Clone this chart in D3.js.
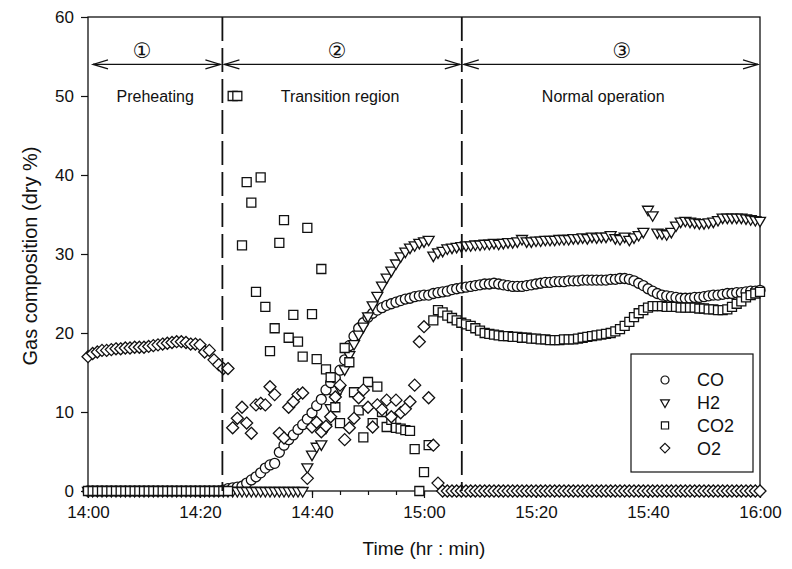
<!DOCTYPE html>
<html>
<head>
<meta charset="utf-8">
<script src="https://cdnjs.cloudflare.com/ajax/libs/d3/7.8.5/d3.min.js"></script>
<style>
    body { margin: 0; background: #fff; }
    text { font-family: "Liberation Sans", Arial, sans-serif; fill: #111; }
</style>
</head>
<body>
<script>
// gas analyser log, one reading every 50 s from 14:00 to 16:00
var startTime = "14:00:00";
var sampleSeconds = 50;

var coValues = [
    0, 0, 0, 0, 0, 0, 0, 0, 0, 0,
    0, 0, 0, 0, 0, 0, 0, 0, 0, 0,
    0, 0, 0, 0, 0, 0, 0, 0, 0, 0.1,
    0.3, 0.4, 0.5, 0.6, 1.0, 1.4, 1.8, 2.3, 2.9, 3.3,
    3.5, 4.9, 5.8, 6.5, 7.1, 7.8, 8.4, 9.1, 9.9, 10.8,
    11.6, 12.8, 13.7, 14.3, 15.3, 16.6, 18.4, 19.6, 20.6, 21.3,
    22.0, 22.5, 22.9, 23.2, 23.5, 23.7, 23.9, 24.1, 24.3, 24.4,
    24.6, 24.7, 24.8, 24.8, 25.0, 25.1, 25.2, 25.3, 25.5, 25.6,
    25.7, 25.8, 25.9, 26.0, 26.1, 26.2, 26.2, 26.3, 26.2, 26.1,
    26.0, 25.9, 25.9, 25.9, 26.0, 26.1, 26.2, 26.3, 26.4, 26.4,
    26.5, 26.5, 26.5, 26.6, 26.6, 26.6, 26.7, 26.7, 26.7, 26.7,
    26.7, 26.7, 26.8, 26.8, 26.9, 26.9, 26.8, 26.6, 26.3, 26.0,
    25.6, 25.3, 25.0, 24.8, 24.7, 24.6, 24.5, 24.4, 24.4, 24.4,
    24.5, 24.5, 24.6, 24.7, 24.8, 24.8, 24.9, 25.0, 25.0, 25.1,
    25.1, 25.2, 25.3, 25.3, 25.4
];
var h2Values = [
    0, 0, 0, 0, 0, 0, 0, 0, 0, 0,
    0, 0, 0, 0, 0, 0, 0, 0, 0, 0,
    0, 0, 0, 0, 0, 0, 0, 0, 0, 0,
    0, 0, 0, 0, 0, 0, 0, 0, 0, 0,
    0, 0, 0, 0, 0, 0, 0, 3.0, 4.6, 5.6,
    5.9, 8.0, 10.5, 11.8, 12.9, 15.4, 17.2, 18.6, 19.8, 20.8,
    22.1, 23.5, 24.7, 26.0, 27.0, 27.9, 28.8, 29.7, 30.3, 30.8,
    31.1, 31.4, 31.6, 31.8, 29.8, 30.2, 30.4, 30.7, 30.8, 30.9,
    31.0, 31.1, 31.1, 31.2, 31.2, 31.3, 31.3, 31.4, 31.3, 31.4,
    31.5, 31.5, 31.6, 31.9, 31.6, 31.6, 31.7, 31.7, 31.8, 31.8,
    31.8, 31.9, 31.9, 31.9, 32.0, 32.0, 32.1, 32.0, 32.2, 32.1,
    32.2, 32.2, 32.4, 32.0, 31.9, 32.2, 31.8, 32.1, 32.4, 32.8,
    35.6, 34.9, 32.7, 32.6, 32.5, 32.8, 33.6, 34.1, 34.2, 34.1,
    34.0, 33.9, 33.9, 34.0, 34.1, 34.3, 34.6, 34.6, 34.6, 34.6,
    34.6, 34.5, 34.4, 34.3, 34.2
];
var co2Values = [
    0, 0, 0, 0, 0, 0, 0, 0, 0, 0,
    0, 0, 0, 0, 0, 0, 0, 0, 0, 0,
    0, 0, 0, 0, 0, 0, 0, 0, 0, 0,
    0, 50, 50, 31.1, 39.1, 36.5, 25.2, 39.7, 23.3, 17.7,
    20.6, 31.4, 34.3, 19.4, 22.3, 18.9, 17.0, 33.3, 22.4, 16.7,
    28.1, 15.4, 14.4, 10.6, 8.6, 18.1, 16.3, 12.5, 10.2, 6.8,
    13.8, 8.6, 13.2, 10.0, 8.1, 9.0, 8.0, 7.9, 7.7, 7.6,
    5.3, 0.0, 2.4, 5.8, 21.6, 22.9, 22.6, 22.2, 21.9, 21.6,
    21.3, 21.1, 20.9, 20.6, 20.3, 20.0, 19.9, 19.8, 19.7, 19.6,
    19.6, 19.5, 19.5, 19.4, 19.4, 19.3, 19.3, 19.2, 19.2, 19.1,
    19.1, 19.1, 19.2, 19.2, 19.2, 19.3, 19.4, 19.5, 19.6, 19.7,
    19.8, 19.9, 20.0, 20.2, 20.5, 20.9, 21.4, 22.0, 22.5, 22.9,
    23.2, 23.4, 23.4, 23.4, 23.3, 23.3, 23.3, 23.2, 23.2, 23.2,
    23.2, 23.1, 23.1, 23.0, 23.0, 22.9, 22.9, 23.0, 23.3, 23.7,
    24.0, 24.5, 24.8, 25.0, 25.2
];
var o2Values = [
    17.0, 17.4, 17.6, 17.8, 17.8, 17.9, 18.0, 18.0, 18.1, 18.1,
    18.2, 18.2, 18.2, 18.3, 18.4, 18.5, 18.6, 18.7, 18.8, 18.9,
    18.9, 18.8, 18.6, 18.6, 18.5, 17.6, 17.8, 16.6, 16.0, 15.5,
    15.5, 8.0, 9.2, 10.6, 8.6, 7.3, 10.9, 11.1, 10.9, 13.2,
    12.2, 7.3, 6.7, 10.6, 11.3, 12.2, 12.4, 1.6, 8.1, 8.7,
    7.5, 8.2, 9.4, 11.9, 13.4, 6.5, 8.0, 9.2, 11.8, 12.8,
    10.6, 8.1, 10.9, 10.3, 11.5, 9.4, 11.5, 9.9, 10.4, 11.3,
    13.4, 18.9, 20.8, 11.8, 5.8, 1.0, 0, 0, 0, 0,
    0, 0, 0, 0, 0, 0, 0, 0, 0, 0,
    0, 0, 0, 0, 0, 0, 0, 0, 0, 0,
    0, 0, 0, 0, 0, 0, 0, 0, 0, 0,
    0, 0, 0, 0, 0, 0, 0, 0, 0, 0,
    0, 0, 0, 0, 0, 0, 0, 0, 0, 0,
    0, 0, 0, 0, 0, 0, 0, 0, 0, 0,
    0, 0, 0, 0, 0
];

var seriesNames = ["CO", "H2", "CO2", "O2"];
var seriesSymbols = ["circle", "triangle", "square", "diamond"];

var xTickLabels = ["14:00", "14:20", "14:40", "15:00", "15:20", "15:40", "16:00"];
var yTickValues = [0, 10, 20, 30, 40, 50, 60];

// operating phases
var phaseBounds = ["14:00:00", "14:24:00", "15:06:45", "16:00:00"];
var phaseNumbers = ["\u2460", "\u2461", "\u2462"];
var phaseNames = ["Preheating", "Transition region", "Normal operation"];
var phaseNumberTimes = ["14:09:40", "14:44:30", "15:35:20"];
var phaseNameTimes = ["14:12:00", "14:45:00", "15:32:00"];

var W = 792, H = 569;
var margin = {top: 17, right: 32, bottom: 78, left: 88};
var width = W - margin.left - margin.right,
    height = H - margin.top - margin.bottom;

var parseTime = d3.timeParse("%H:%M:%S");
var parseTick = d3.timeParse("%H:%M");
var t0 = parseTime(startTime);

function sampleTime(i) {
    return d3.timeSecond.offset(t0, i * sampleSeconds);
}

var valueLists = [coValues, h2Values, co2Values, o2Values];
var series = seriesNames.map(function (name, k) {
    return {
        name: name,
        symbol: seriesSymbols[k],
        points: valueLists[k].map(function (v, i) {
            return {time: sampleTime(i), value: v};
        })
    };
});

var svg = d3.select("body").append("svg")
    .attr("width", W)
    .attr("height", H);

var chart = svg.append("g")
    .attr("transform", "translate(" + margin.left + "," + margin.top + ")");

var x = d3.scaleTime()
    .domain([parseTick(xTickLabels[0]), parseTick(xTickLabels[xTickLabels.length - 1])])
    .range([0, width]);
var y = d3.scaleLinear()
    .domain([0, 60])
    .range([height, 0]);

function markerPath(type, s) {
    if (type == "circle") return d3.symbol(d3.symbolCircle, Math.PI * 25 * s * s)();
    if (type == "square") return "M" + (-4.5 * s) + "," + (-4.5 * s) + "h" + 9 * s + "v" + 9 * s + "h" + (-9 * s) + "z";
    if (type == "diamond") return "M0," + (-6 * s) + "L" + 6 * s + ",0L0," + 6 * s + "L" + (-6 * s) + ",0Z";
    // downward triangle
    return "M" + (-5.5 * s) + "," + (-3.5 * s) + "L" + 5.5 * s + "," + (-3.5 * s) + "L0," + 6 * s + "Z";
}

// axes
var xMinor = d3.axisBottom(x)
    .ticks(d3.timeMinute.every(5))
    .tickSize(4)
    .tickFormat("");
chart.append("g")
    .attr("class", "x minor")
    .attr("transform", "translate(0," + height + ")")
    .call(xMinor);

var xAxis = d3.axisBottom(x)
    .tickValues(xTickLabels.map(parseTick))
    .tickFormat(d3.timeFormat("%H:%M"))
    .tickSize(7)
    .tickPadding(8);
chart.append("g")
    .attr("class", "x axis")
    .attr("transform", "translate(0," + height + ")")
    .call(xAxis);

var yAxis = d3.axisLeft(y)
    .tickValues(yTickValues)
    .tickSize(7)
    .tickPadding(7);
chart.append("g")
    .attr("class", "y axis")
    .call(yAxis);

chart.selectAll(".axis text").style("font-size", "17px");
chart.selectAll(".axis path, .minor path").remove();
chart.selectAll(".tick line").attr("stroke", "#111").attr("stroke-width", 1.2);

// frame
chart.append("rect")
    .attr("width", width)
    .attr("height", height)
    .attr("fill", "none")
    .attr("stroke", "#111")
    .attr("stroke-width", 1.3);

// data
series.forEach(function (s) {
    chart.append("g")
        .attr("class", "series " + s.name)
        .selectAll("path")
        .data(s.points)
        .enter()
        .append("path")
        .attr("transform", function (d) {
            return "translate(" + x(d.time) + "," + y(d.value) + ")";
        })
        .attr("d", markerPath(s.symbol, 1))
        .attr("fill", "#fff")
        .attr("stroke", "#111")
        .attr("stroke-width", 1.3);
});

// phase dividers
chart.selectAll(".divider")
    .data(phaseBounds.slice(1, 3))
    .enter()
    .append("line")
    .attr("class", "divider")
    .attr("x1", function (d) { return x(parseTime(d)); })
    .attr("x2", function (d) { return x(parseTime(d)); })
    .attr("y1", 0)
    .attr("y2", height)
    .attr("stroke", "#111")
    .attr("stroke-width", 1.8)
    .attr("stroke-dasharray", "24,7");

// phase arrows
var arrowY = y(54);
phaseNames.forEach(function (name, k) {
    var xa = x(parseTime(phaseBounds[k])) + (k == 0 ? 5 : 2);
    var xb = x(parseTime(phaseBounds[k + 1])) - 2;
    var g = chart.append("g").attr("class", "arrow");
    g.append("line")
        .attr("x1", xa).attr("x2", xb)
        .attr("y1", arrowY).attr("y2", arrowY);
    g.append("path")
        .attr("d", "M" + (xa + 15) + "," + (arrowY - 4.5) + "L" + xa + "," + arrowY + "L" + (xa + 15) + "," + (arrowY + 4.5));
    g.append("path")
        .attr("d", "M" + (xb - 15) + "," + (arrowY - 4.5) + "L" + xb + "," + arrowY + "L" + (xb - 15) + "," + (arrowY + 4.5));
    g.selectAll("line, path")
        .attr("fill", "none")
        .attr("stroke", "#111")
        .attr("stroke-width", 1.2);

    chart.append("text")
        .attr("x", x(parseTime(phaseNumberTimes[k])))
        .attr("y", y(55.8))
        .attr("dy", "0.35em")
        .attr("text-anchor", "middle")
        .style("font-family", "'DejaVu Sans', sans-serif")
        .style("font-size", "21px")
        .text(phaseNumbers[k]);

    chart.append("text")
        .attr("x", x(parseTime(phaseNameTimes[k])))
        .attr("y", y(50))
        .attr("dy", "0.35em")
        .attr("text-anchor", "middle")
        .style("font-size", "16px")
        .text(name);
});

// axis titles
svg.append("text")
    .attr("transform", "translate(37,256) rotate(-90)")
    .attr("text-anchor", "middle")
    .style("font-size", "20px")
    .text("Gas composition (dry %)");

svg.append("text")
    .attr("x", margin.left + width / 2)
    .attr("y", 555)
    .attr("text-anchor", "middle")
    .style("font-size", "19px")
    .text("Time (hr : min)");

// legend
var legend = svg.append("g")
    .attr("class", "legend")
    .attr("transform", "translate(631,354)");
legend.append("rect")
    .attr("width", 122)
    .attr("height", 118)
    .attr("fill", "#fff")
    .attr("stroke", "#111")
    .attr("stroke-width", 1.2);
var item = legend.selectAll(".item")
    .data(series)
    .enter()
    .append("g")
    .attr("class", "item")
    .attr("transform", function (d, i) {
        return "translate(0," + (26 + i * 22.7) + ")";
    });
item.append("path")
    .attr("transform", "translate(34,0)")
    .attr("d", function (d) { return markerPath(d.symbol, 0.8); })
    .attr("fill", "#fff")
    .attr("stroke", "#111")
    .attr("stroke-width", 1.2);
item.append("text")
    .attr("x", 66)
    .attr("dy", "0.36em")
    .style("font-size", "18px")
    .text(function (d) { return d.name; });
</script>
</body>
</html>
